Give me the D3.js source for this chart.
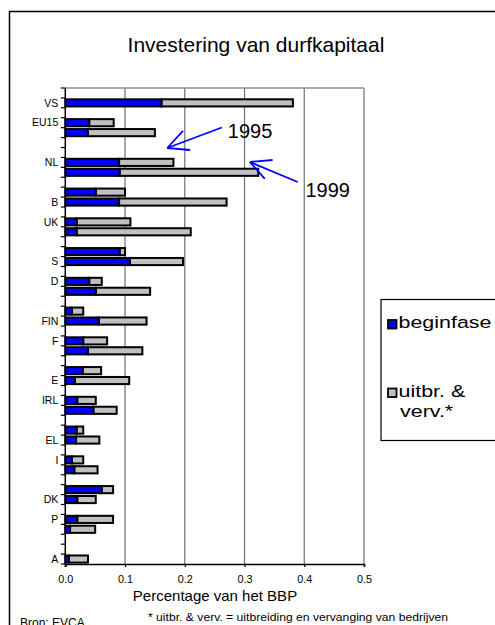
<!DOCTYPE html>
<html>
<head>
<meta charset="utf-8">
<script src="https://d3js.org/d3.v7.min.js"></script>
<style>
  body { margin: 0; background: #fff; }
  text { font-family: Arial, "Liberation Sans", sans-serif; fill: #000; }
</style>
</head>
<body>
<div id="chart"></div>
<script>
// rows from top to bottom: 1995, 1999, blank per country (labels as Excel shows them)
var rowLabels = ["", "VS", "", "EU15", "", "", "", "NL", "", "", "", "B", "", "UK", "", "", "",
  "S", "", "D", "", "", "", "FIN", "", "F", "", "", "", "E", "", "IRL", "", "", "", "EL", "",
  "I", "", "", "", "DK", "", "P", "", "", "", "A"];
var beginfase = [null, 0.161, null, 0.040, 0.038, null, null, 0.090, 0.091, null, 0.051, 0.090,
  null, 0.019, 0.019, null, 0.091, 0.108, null, 0.040, 0.051, null, 0.011, 0.056, null, 0.030,
  0.038, null, 0.029, 0.016, null, 0.020, 0.047, null, 0.019, 0.018, null, 0.011, 0.015, null,
  0.061, 0.020, null, 0.020, 0.008, null, null, 0.006];
var uitbreiding = [null, 0.220, null, 0.041, 0.112, null, null, 0.091, 0.232, null, 0.049, 0.180,
  null, 0.090, 0.191, null, 0.009, 0.089, null, 0.021, 0.091, null, 0.019, 0.080, null, 0.040,
  0.091, null, 0.031, 0.091, null, 0.031, 0.039, null, 0.011, 0.039, null, 0.019, 0.039, null,
  0.019, 0.031, null, 0.060, 0.042, null, null, 0.032];
var xTicks = [0, 0.1, 0.2, 0.3, 0.4, 0.5];
var legendLabels = ["beginfase", "uitbr. &|verv.*"];
var colors = ["#0000ff", "#c0c0c0"];

var W = 495, H = 625;
var pLeft = 65.3, pRight = 364, pTop = 88, pBottom = 564;

var svg = d3.select("#chart").append("svg")
    .attr("width", W).attr("height", H);

// outer chart frame (runs off the picture to the right and bottom)
svg.append("rect")
    .attr("x", 9.5).attr("y", 11.5).attr("width", 520).attr("height", 700)
    .attr("fill", "none").attr("stroke", "#000").attr("stroke-width", 1.5);

svg.append("text")
    .attr("x", 256).attr("y", 52)
    .attr("text-anchor", "middle").style("font-size", "21px")
    .text("Investering van durfkapitaal");

var x = d3.scaleLinear().domain([0, 0.5]).range([pLeft, pRight]);
var rows = d3.range(rowLabels.length);
var y = d3.scaleBand().domain(rows).range([pTop, pBottom]).paddingInner(0.28).paddingOuter(0.14);
var yPos = d3.scaleLinear().domain([0, rowLabels.length]).range([pTop, pBottom]);

// gridlines and plot border
svg.append("g").selectAll("line")
  .data(xTicks.slice(1))
  .enter().append("line")
    .attr("x1", function(d) { return x(d); }).attr("x2", function(d) { return x(d); })
    .attr("y1", pTop).attr("y2", pBottom)
    .attr("stroke", "#707070").attr("stroke-width", 1.2);
svg.append("line")
    .attr("x1", pLeft).attr("x2", pRight).attr("y1", pTop).attr("y2", pTop)
    .attr("stroke", "#909090").attr("stroke-width", 1.5);

// annotation arrows, in value / row units
var blue = "#0000ff";
var arrows = [
  {tip: [0.1706, 6.05], tail: [0.262, 3.98], h1: [0.197, 4.33], h2: [0.209, 6.25]},
  {tip: [0.309, 7.46], tail: [0.389, 9.48], h1: [0.347, 7.26], h2: [0.334, 9.17]}
];
var years = [{label: "1995", x: 0.272, row: 5.04}, {label: "1999", x: 0.402, row: 10.99}];

// bars
var stackData = rows.filter(function(i) { return beginfase[i] != null; }).map(function(i) {
  return {row: i, b: beginfase[i], u: uitbreiding[i]};
});
var barG = svg.append("g");
barG.selectAll("rect.u")
  .data(stackData).enter().append("rect")
    .attr("class", "u")
    .attr("x", function(d) { return x(d.b); })
    .attr("width", function(d) { return x(d.b + d.u) - x(d.b); })
    .attr("y", function(d) { return y(d.row); })
    .attr("height", y.bandwidth())
    .attr("fill", colors[1]).attr("stroke", "#000").attr("stroke-width", 2);
barG.selectAll("rect.b")
  .data(stackData).enter().append("rect")
    .attr("class", "b")
    .attr("x", x(0))
    .attr("width", function(d) { return x(d.b) - x(0); })
    .attr("y", function(d) { return y(d.row); })
    .attr("height", y.bandwidth())
    .attr("fill", colors[0]).attr("stroke", "#000").attr("stroke-width", 2);

arrows.forEach(function(a) {
  [[a.tail, a.tip], [a.tip, a.h1], [a.tip, a.h2]].forEach(function(s) {
    svg.append("line")
      .attr("x1", x(s[0][0])).attr("y1", yPos(s[0][1]))
      .attr("x2", x(s[1][0])).attr("y2", yPos(s[1][1]))
      .attr("stroke", blue).attr("stroke-width", 1.8);
  });
});
svg.selectAll("text.year")
  .data(years).enter().append("text")
    .attr("class", "year")
    .attr("x", function(d) { return x(d.x); })
    .attr("y", function(d) { return yPos(d.row); })
    .style("font-size", "20px")
    .text(function(d) { return d.label; });

// category axis: ticks between rows, labels at row centres
var yAxisG = svg.append("g");
yAxisG.append("line")
    .attr("x1", pLeft).attr("x2", pLeft).attr("y1", pTop).attr("y2", pBottom + 3)
    .attr("stroke", "#000").attr("stroke-width", 1.5);
yAxisG.selectAll("line.tick")
  .data(d3.range(rowLabels.length + 1))
  .enter().append("line")
    .attr("class", "tick")
    .attr("x1", pLeft - 4.5).attr("x2", pLeft)
    .attr("y1", function(d) { return yPos(d); }).attr("y2", function(d) { return yPos(d); })
    .attr("stroke", "#000").attr("stroke-width", 1.2);
yAxisG.selectAll("text")
  .data(rows.filter(function(i) { return rowLabels[i] !== ""; }))
  .enter().append("text")
    .attr("x", pLeft - 7)
    .attr("y", function(d) { return y(d) + y.bandwidth() / 2; })
    .attr("dy", "0.35em")
    .attr("text-anchor", "end")
    .style("font-size", "10.5px")
    .text(function(d) { return rowLabels[d]; });

// value axis
var xAxis = d3.axisBottom(x).tickValues(xTicks).tickSize(3).tickPadding(8)
    .tickFormat(d3.format(".1f"));
var xg = svg.append("g").attr("transform", "translate(0," + pBottom + ")").call(xAxis);
xg.select(".domain").attr("stroke", "#000").attr("stroke-width", 1.5);
xg.selectAll(".tick line").attr("stroke", "#000").attr("stroke-width", 1.2);
xg.selectAll(".tick text")
    .style("font-size", "10.8px").style("font-family", "Arial, 'Liberation Sans', sans-serif");

svg.append("text")
    .attr("x", 215).attr("y", 601)
    .attr("text-anchor", "middle").style("font-size", "15px")
    .text("Percentage van het BBP");

svg.append("text")
    .attr("x", 148).attr("y", 621)
    .attr("textLength", 300).attr("lengthAdjust", "spacingAndGlyphs")
    .style("font-size", "10.5px")
    .text("* uitbr. & verv. = uitbreiding en vervanging van bedrijven");

svg.append("text")
    .attr("x", 20).attr("y", 627)
    .style("font-size", "12px")
    .text("Bron: EVCA");

// legend
var lg = svg.append("g");
lg.append("rect")
    .attr("x", 381).attr("y", 299.5).attr("width", 130).attr("height", 141)
    .attr("fill", "#fff").attr("stroke", "#000").attr("stroke-width", 1.2);
var legendRows = [
  {color: colors[0], lines: legendLabels[0].split("|"), sq: 320},
  {color: colors[1], lines: legendLabels[1].split("|"), sq: 388.5}
];
legendRows.forEach(function(r) {
  lg.append("rect")
    .attr("x", 388).attr("y", r.sq).attr("width", 8.5).attr("height", 8.5)
    .attr("fill", r.color).attr("stroke", "#000").attr("stroke-width", 1.8);
  r.lines.forEach(function(t, i) {
    var tx = i === 0 ? 398.5 : 400;
    lg.append("text")
      .attr("x", tx).attr("y", r.sq + 8.3 + i * 20.5)
      .style("font-size", "16.5px")
      .attr("transform", "translate(" + tx + ",0) scale(1.3,1) translate(" + -tx + ",0)")
      .text(t);
  });
});
</script>
</body>
</html>
